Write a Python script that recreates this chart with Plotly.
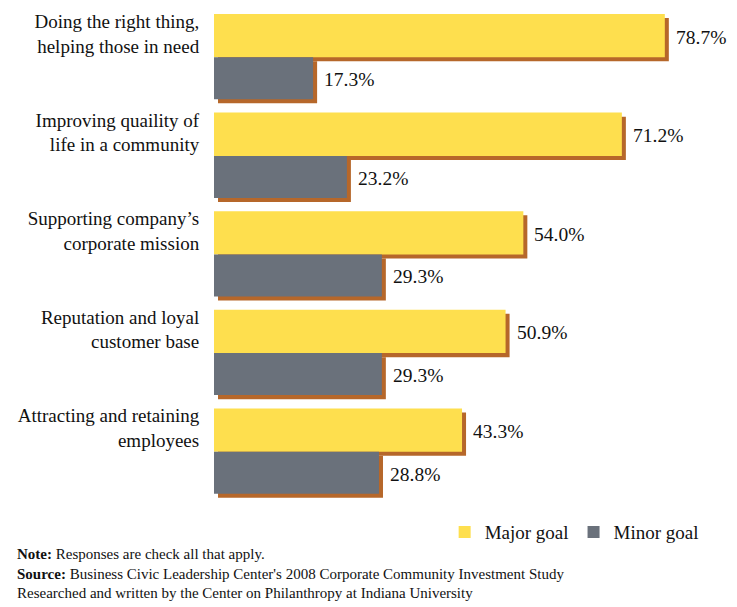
import plotly.graph_objects as go

categories = [
    "Doing the right thing,<br>helping those in need",
    "Improving quaility of<br>life in a community",
    "Supporting company’s<br>corporate mission",
    "Reputation and loyal<br>customer base",
    "Attracting and retaining<br>employees",
]
major = [78.7, 71.2, 54.0, 50.9, 43.3]
minor = [17.3, 23.2, 29.3, 29.3, 28.8]

YELLOW = "#FEDF4E"
GRAY = "#6A717B"
BROWN = "#B6672A"
FONT = "Liberation Serif"

# layout geometry (in group units)
MAJ_W = 0.439
MIN_W = 0.426
maj_c = [i + MAJ_W / 2 for i in range(len(categories))]
min_c = [i + MAJ_W + MIN_W / 2 for i in range(len(categories))]
SX = 0.7   # shadow x offset (data units)
SY = 0.041  # shadow y offset (group units)

fig = go.Figure()
fig.add_trace(go.Bar(x=major, y=[c + SY for c in maj_c], base=SX, width=MAJ_W,
                     orientation="h", marker=dict(color=BROWN, line=dict(width=0)),
                     showlegend=False, hoverinfo="skip"))
fig.add_trace(go.Bar(x=minor, y=[c + SY for c in min_c], base=SX, width=MIN_W,
                     orientation="h", marker=dict(color=BROWN, line=dict(width=0)),
                     showlegend=False, hoverinfo="skip"))
fig.add_trace(go.Bar(x=major, y=maj_c, width=MAJ_W, orientation="h", name="Major goal",
                     marker=dict(color=YELLOW, line=dict(width=0))))
fig.add_trace(go.Bar(x=minor, y=min_c, width=MIN_W, orientation="h", name="Minor goal",
                     marker=dict(color=GRAY, line=dict(width=0))))

for vals, cs in ((major, maj_c), (minor, min_c)):
    for v, c in zip(vals, cs):
        fig.add_annotation(x=v, y=c + 0.015, xref="x", yref="y", text=f"{v:.1f}%",
                           showarrow=False, xanchor="left", yanchor="middle", xshift=9,
                           font=dict(family=FONT, size=19.5, color="#111"))

fig.add_annotation(
    xref="paper", yref="paper", x=(15 - 214) / 523, y=(510 - 544) / 510,
    xanchor="left", yanchor="top", align="left", showarrow=False,
    text=("<b>Note:</b> Responses are check all that apply.<br>"
          "<b>Source:</b> Business Civic Leadership Center's 2008 Corporate Community Investment Study<br>"
          "Researched and written by the Center on Philanthropy at Indiana University"),
    font=dict(family=FONT, size=15, color="#111"),
)

fig.update_layout(
    width=737, height=607,
    margin=dict(l=214, r=0, t=0, b=97),
    barmode="overlay",
    plot_bgcolor="white", paper_bgcolor="white",
    font=dict(family=FONT, size=19, color="#111"),
    xaxis=dict(range=[0, 91.3], visible=False, fixedrange=True),
    yaxis=dict(range=[5.03, -0.142], tickvals=[c - 0.02 for c in maj_c], ticktext=categories,
               showgrid=False, zeroline=False, showline=False,
               ticks="outside", ticklen=10, tickcolor="rgba(0,0,0,0)",
               tickfont=dict(family=FONT, size=19, color="#111")),
    legend=dict(orientation="h", x=0.441, y=-0.006, xanchor="left", yanchor="top",
                font=dict(family=FONT, size=19, color="#111"), itemwidth=30,
                bgcolor="rgba(0,0,0,0)", traceorder="normal"),
    showlegend=True,
)

fig.write_html("out.html")
